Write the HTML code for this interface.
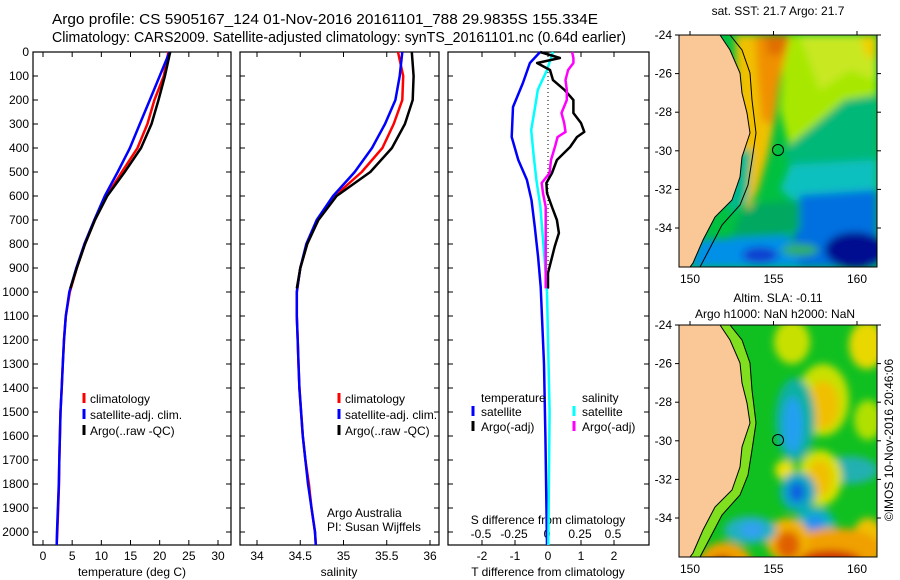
<!DOCTYPE html>
<html><head><meta charset="utf-8"><style>
body{margin:0;background:#fff}
svg{display:block;font-family:"Liberation Sans",sans-serif}
</style></head><body>
<svg id="fig" width="900" height="580" viewBox="0 0 900 580" xmlns="http://www.w3.org/2000/svg">
<defs>
<filter id="bl" x="-50%" y="-50%" width="200%" height="200%"><feGaussianBlur stdDeviation="4"/></filter>
<clipPath id="cm1"><rect x="679" y="35" width="198" height="232"/></clipPath>
<clipPath id="cm2"><rect x="679" y="325" width="198" height="232"/></clipPath>
</defs>
<text x="52" y="24" font-size="14.5" textLength="546" lengthAdjust="spacingAndGlyphs">Argo profile: CS 5905167_124 01-Nov-2016 20161101_788 29.9835S 155.334E</text>
<text x="52" y="42" font-size="14.5" textLength="574" lengthAdjust="spacingAndGlyphs">Climatology: CARS2009. Satellite-adjusted climatology: synTS_20161101.nc (0.64d earlier)</text>
<g id="p1"></g>
<g id="p2"></g>
<g id="p3"></g>

<!-- SST map -->
<g>
<text x="778" y="15" font-size="12" text-anchor="middle">sat. SST: 21.7 Argo: 21.7</text>
<g clip-path="url(#cm1)">
<rect x="679" y="35" width="198" height="232" fill="#00c040"/>
<g filter="url(#bl)">
<polygon points="785,35 877,35 877,105 845,100 815,125 790,150 780,110" fill="#a8e800"/>
<polygon points="800,35 877,35 877,80 850,70 820,90" fill="#c8e820"/>
<polygon points="860,35 877,35 877,60 865,55" fill="#f0d000"/>
<polygon points="783,150 815,125 845,100 877,95 877,175 830,175 790,165" fill="#00b878"/>
<polygon points="790,165 877,160 877,200 800,205 780,190" fill="#10c0c0"/>
<polygon points="800,195 877,190 877,267 790,267" fill="#0070e0"/>
<ellipse cx="855" cy="250" rx="30" ry="18" fill="#000890"/>
<polygon points="745,205 800,200 800,230 760,240 730,240" fill="#00a860"/>
<polygon points="700,240 790,235 800,267 690,267" fill="#0090e8"/>
<ellipse cx="760" cy="255" rx="18" ry="8" fill="#1040d0"/>
<ellipse cx="800" cy="250" rx="18" ry="6" fill="#30b060"/>
<polygon points="735,35 790,35 780,80 775,120 768,155 758,190 748,210 740,190" fill="#f0c000"/>
<polygon points="755,35 790,35 780,80 772,125 762,120 758,80" fill="#f09000"/>
<polygon points="765,35 790,35 782,55 768,55" fill="#e07000"/>
<polygon points="735,150 752,150 748,200 730,215 725,190" fill="#00b890"/>
</g>
<polygon points="679,35 720,35 730,50 740,73 742,93 747,113 750,133 742,157 740,177 732,200 715,217 703,240 693,263 690,267 679,267" fill="#f9c896" stroke="#000" stroke-width="1"/>
<polyline points="730,35 742,50 750,73 752,100 756,133 752,160 748,185 740,205 722,225 710,248 700,267" fill="none" stroke="#000" stroke-width="1"/>
</g>
<rect x="679" y="35" width="198" height="232" fill="none" stroke="#000"/>
<circle cx="778" cy="150" r="5.5" fill="none" stroke="#000"/>
<g id="m1ax"></g>
</g>

<!-- SLA map -->
<g>
<text x="778" y="302" font-size="12" text-anchor="middle">Altim. SLA: -0.11</text>
<text x="775" y="318" font-size="12" text-anchor="middle">Argo h1000: NaN h2000: NaN</text>
<g clip-path="url(#cm2)">
<rect x="679" y="325" width="198" height="232" fill="#10c020"/>
<g filter="url(#bl)">
<ellipse cx="792" cy="342" rx="18" ry="22" fill="#c8e000"/>
<ellipse cx="823" cy="400" rx="26" ry="36" fill="#c8e000"/>
<ellipse cx="823" cy="405" rx="16" ry="24" fill="#f0c000"/>
<ellipse cx="867" cy="345" rx="18" ry="24" fill="#e8d800"/>
<ellipse cx="868" cy="420" rx="14" ry="20" fill="#b0e000"/>
<ellipse cx="795" cy="420" rx="20" ry="42" fill="#10b0a0"/>
<ellipse cx="793" cy="425" rx="10" ry="28" fill="#20a0f0"/>
<ellipse cx="850" cy="470" rx="28" ry="14" fill="#20b0b0"/>
<ellipse cx="820" cy="478" rx="22" ry="28" fill="#d8e000"/>
<ellipse cx="820" cy="478" rx="12" ry="18" fill="#f0c000"/>
<ellipse cx="785" cy="470" rx="10" ry="10" fill="#e8e000"/>
<ellipse cx="798" cy="492" rx="18" ry="20" fill="#10a8c0"/>
<ellipse cx="797" cy="492" rx="8" ry="10" fill="#1060e0"/>
<ellipse cx="815" cy="525" rx="20" ry="18" fill="#10b0c0"/>
<ellipse cx="815" cy="525" rx="9" ry="10" fill="#2090f0"/>
<ellipse cx="868" cy="540" rx="16" ry="22" fill="#f0c000"/>
<ellipse cx="835" cy="550" rx="48" ry="22" fill="#f0a000"/>
<ellipse cx="830" cy="562" rx="32" ry="12" fill="#d03000"/>
<ellipse cx="788" cy="540" rx="22" ry="22" fill="#f0b000"/>
<ellipse cx="788" cy="545" rx="12" ry="14" fill="#e06000"/>
<ellipse cx="750" cy="530" rx="26" ry="14" fill="#20b0c0"/>
<ellipse cx="752" cy="530" rx="12" ry="8" fill="#30a0f0"/>
<ellipse cx="725" cy="568" rx="28" ry="26" fill="#f0a000"/>
<ellipse cx="722" cy="572" rx="16" ry="16" fill="#b01000"/>
</g>
<polygon points="720,325 730,340 740,363 742,383 747,403 750,423 742,447 740,467 732,490 715,507 703,530 693,553 690,557 700,557 710,538 722,515 740,495 748,475 752,450 756,423 752,390 750,363 742,340 730,325" fill="#80e020"/>
<polygon points="679,325 720,325 730,340 740,363 742,383 747,403 750,423 742,447 740,467 732,490 715,507 703,530 693,553 690,557 679,557" fill="#f9c896" stroke="#000" stroke-width="1"/>
<polyline points="730,325 742,340 750,363 752,390 756,423 752,450 748,475 740,495 722,515 710,538 700,557" fill="none" stroke="#000" stroke-width="1"/>
</g>
<rect x="679" y="325" width="198" height="232" fill="none" stroke="#000"/>
<circle cx="778" cy="440" r="5.5" fill="none" stroke="#000"/>
<g id="m2ax"></g>
</g>
<text x="0" y="0" font-size="12" text-anchor="middle" transform="translate(893,440) rotate(-90)">©IMOS 10-Nov-2016 20:46:06</text>
</svg>
<script>
const NS='http://www.w3.org/2000/svg';
// ---- data ----
const climDepth=[0,100,200,300,400,500,600,700,800,900,1000,1100,1200,1300,1400,1500,1600,1700,1800,1900,2000,2054];
const tempClim=[21.5,20.7,19.1,17.9,16.2,13.5,10.9,8.9,7.2,5.8,4.6,3.9,3.6,3.4,3.2,3.0,2.9,2.8,2.75,2.6,2.45,2.35];
const tempSat=[21.7,20.0,18.3,16.6,14.9,12.8,10.6,8.8,7.1,5.7,4.5,3.9,3.6,3.4,3.2,3.0,2.9,2.8,2.7,2.55,2.4,2.35];
const argoDepth=[0,100,200,300,400,500,600,700,800,900,985];
const tempArgo=[21.8,20.9,19.8,18.6,16.8,14.0,11.0,8.9,7.2,5.8,4.7];
const salClim=[35.63,35.69,35.68,35.58,35.45,35.21,34.90,34.70,34.58,34.50,34.46,34.46,34.47,34.48,34.49,34.51,34.53,34.56,34.60,34.63,34.67,34.68];
const salSat=[35.68,35.65,35.60,35.48,35.33,35.13,34.88,34.69,34.57,34.50,34.46,34.46,34.47,34.48,34.49,34.51,34.53,34.56,34.59,34.63,34.67,34.68];
const salArgo=[35.79,35.81,35.80,35.71,35.56,35.31,34.92,34.71,34.58,34.50,34.46];
const tDiffDepth=[0,46,129,229,354,450,533,617,729,854,979,1300,1600,2054];
const tDiffSat=[-0.24,-0.55,-0.76,-1.06,-1.1,-0.9,-0.64,-0.5,-0.4,-0.3,-0.22,-0.12,-0.08,-0.03];
const sDiffDepth=[0,75,158,229,325,437,533,646,783,921,1000,1500,2054];
const sDiffSat=[0.045,0.0,-0.07,-0.09,-0.12,-0.1,-0.08,-0.05,-0.03,-0.01,0.0,0.02,0.01];
const argoDiffDepth=[0,25,46,75,117,158,200,254,296,333,354,396,450,504,546,588,646,700,754,812,867,921,985];
const tDiffArgo=[-0.24,0.36,-0.33,0.06,0.15,0.5,0.77,0.77,1.0,1.1,0.88,0.67,0.27,0.12,-0.05,-0.03,0.12,0.27,0.33,0.2,0.1,0.0,0.0];
const sDiffArgo=[0.19,0.2,0.2,0.16,0.14,0.15,0.15,0.11,0.13,0.14,0.08,0.06,0.03,0.02,-0.04,-0.03,-0.01,-0.01,-0.01,-0.01,-0.01,-0.01,-0.01];
const depthTicks=[0,100,200,300,400,500,600,700,800,900,1000,1100,1200,1300,1400,1500,1600,1700,1800,1900,2000];
const tempTicks=[0,5,10,15,20,25,30];
const salTicks=[34,34.5,35,35.5,36];
const tDiffTicks=[-2,-1,0,1,2];
const sDiffTicks=[-0.5,-0.25,0,0.25,0.5];
const sDiffTickLabels=['-0.5','-0.25','0','0.25','0.5'];
const latTicks=[-24,-26,-28,-30,-32,-34];
const lonTicks=[150,155,160];
// ---- helpers ----
const svg=document.getElementById('fig');
function mk(tag,attrs,parent){const e=document.createElementNS(NS,tag);for(const k in attrs)e.setAttribute(k,attrs[k]);(parent||svg).appendChild(e);return e;}
const Y0=52,Y1=545;
const yD=d=>Y0+d*0.24;
function linear(d0,d1,r0,r1){return v=>r0+(v-d0)*(r1-r0)/(d1-d0);}
const xT=linear(0,30,43,218);
const xS=linear(34,36,257,430);
const xTd=linear(0,1,548,581);
const xSd=linear(0,1,547,679);
function stepLine(g,xs,ds,sc,color,name,w){
  let p='';
  for(let i=0;i<xs.length;i++){const x=sc(xs[i]).toFixed(1),y=yD(ds[i]).toFixed(1);p+=(i?'L':'M')+x+','+y;}
  const e=mk('path',{d:p,fill:'none',stroke:color,'stroke-width':w||2.5,'stroke-linejoin':'round'},g);
  
  
}
function frame(g,x0,x1,withY){
  const r=mk('rect',{x:x0,y:Y0,width:x1-x0,height:Y1-Y0,fill:'none',stroke:'#000','stroke-width':1.2},g);
  
  
  depthTicks.forEach(d=>{
    mk('line',{x1:x0,x2:x0+5,y1:yD(d),y2:yD(d),stroke:'#000'},g);
    mk('line',{x1:x1-5,x2:x1,y1:yD(d),y2:yD(d),stroke:'#000'},g);
    if(withY){const t=mk('text',{x:x0-4,y:yD(d)+4,'font-size':12,'text-anchor':'end'},g);t.textContent=d;
      
      }
  });
}
function xAxis(g,ticks,labels,sc,y,top){
  ticks.forEach((v,i)=>{
    const x=sc(v);
    mk('line',{x1:x,x2:x,y1:Y1-5,y2:Y1,stroke:'#000'},g);
    if(top) mk('line',{x1:x,x2:x,y1:Y0,y2:Y0+5,stroke:'#000'},g);
    const t=mk('text',{x:x,y:y,'font-size':12,'text-anchor':'middle'},g);t.textContent=labels[i];
    
    
  });
}
function txt(g,x,y,s,name,anchor){const t=mk('text',{x:x,y:y,'font-size':12,'text-anchor':anchor||'start'},g);t.textContent=s;
  
  return t;}
function legendMark(g,x,y,c){const l=mk('line',{x1:x,x2:x,y1:y-10,y2:y,stroke:c,'stroke-width':3},g);
  
  }
// ---- panel 1 ----
const p1=document.getElementById('p1');
frame(p1,33,231,true);
xAxis(p1,tempTicks,tempTicks.map(String),xT,560,true);
txt(p1,132,576,'temperature (deg C)','x-axis-title','middle');
stepLine(p1,tempClim,climDepth,xT,'#ff0000','temp-climatology-line');
stepLine(p1,tempSat,climDepth,xT,'#0000ff','temp-satellite-line');
stepLine(p1,tempArgo,argoDepth,xT,'#000','temp-argo-line');
[['climatology','#f00'],['satellite-adj. clim.','#00f'],['Argo(..raw -QC)','#000']].forEach((l,i)=>{legendMark(p1,84,403+i*16,l[1]);txt(p1,90,403+i*16,l[0],'legend-entry');});
// ---- panel 2 ----
const p2=document.getElementById('p2');
frame(p2,240,439,false);
xAxis(p2,salTicks,['34','34.5','35','35.5','36'],xS,560,true);
txt(p2,339,576,'salinity','x-axis-title','middle');
stepLine(p2,salClim,climDepth,xS,'#ff0000','sal-climatology-line');
stepLine(p2,salSat,climDepth,xS,'#0000ff','sal-satellite-line');
stepLine(p2,salArgo,argoDepth,xS,'#000','sal-argo-line');
[['climatology','#f00'],['satellite-adj. clim.','#00f'],['Argo(..raw -QC)','#000']].forEach((l,i)=>{legendMark(p2,339,403+i*16,l[1]);txt(p2,345,403+i*16,l[0],'legend-entry');});
txt(p2,327,517,'Argo Australia','credit-line-1');
txt(p2,327,531,'PI: Susan Wijffels','credit-line-2');
// ---- panel 3 ----
const p3=document.getElementById('p3');
frame(p3,448,649,false);
tDiffTicks.forEach(v=>mk('line',{x1:xTd(v),x2:xTd(v),y1:Y0,y2:Y0+5,stroke:'#000'},p3));
xAxis(p3,tDiffTicks,tDiffTicks.map(String),xTd,560,false);
sDiffTicks.forEach((v,i)=>{const t=txt(p3,xSd(v),538,sDiffTickLabels[i],'s-diff-tick-label','middle');});
txt(p3,548,524,'S difference from climatology','s-axis-title','middle');
txt(p3,548,576,'T difference from climatology','x-axis-title','middle');
const z=mk('line',{x1:xTd(0),x2:xTd(0),y1:Y0,y2:yD(1000),stroke:'#000','stroke-dasharray':'1,3'},p3);


stepLine(p3,tDiffSat,tDiffDepth,xTd,'#0000ff','t-diff-satellite-line');
stepLine(p3,sDiffSat,sDiffDepth,xSd,'#00ffff','s-diff-satellite-line');
stepLine(p3,tDiffArgo,argoDiffDepth,xTd,'#000','t-diff-argo-line');
stepLine(p3,sDiffArgo,argoDiffDepth,xSd,'#ff00ff','s-diff-argo-line');
txt(p3,481,402,'temperature','legend-title-temperature');
txt(p3,582,402,'salinity','legend-title-salinity');
legendMark(p3,473,416,'#00f');txt(p3,481,416,'satellite','legend-entry');
legendMark(p3,473,431,'#000');txt(p3,481,431,'Argo(-adj)','legend-entry');
legendMark(p3,574,416,'#0ff');txt(p3,582,416,'satellite','legend-entry');
legendMark(p3,574,431,'#f0f');txt(p3,582,431,'Argo(-adj)','legend-entry');
// ---- map axes ----
const xLon=linear(150,160,690,857);
function mapAxes(gid,top,bottom){
  const g=document.getElementById(gid);
  const yLat=linear(-24,-34,top,top+193);
  latTicks.forEach(v=>{const y=yLat(v);mk('line',{x1:675,x2:679,y1:y,y2:y,stroke:'#000'},g);mk('line',{x1:877,x2:881,y1:y,y2:y,stroke:'#000'},g);
    txt(g,672,y+4,String(v),'lat-tick-label','end');});
  lonTicks.forEach(v=>{const x=xLon(v);mk('line',{x1:x,x2:x,y1:top-4,y2:top,stroke:'#000'},g);
    txt(g,x,bottom+16,String(v),'lon-tick-label','middle');});
}
mapAxes('m1ax',35,267);
mapAxes('m2ax',325,557);
</script>
</body></html>
